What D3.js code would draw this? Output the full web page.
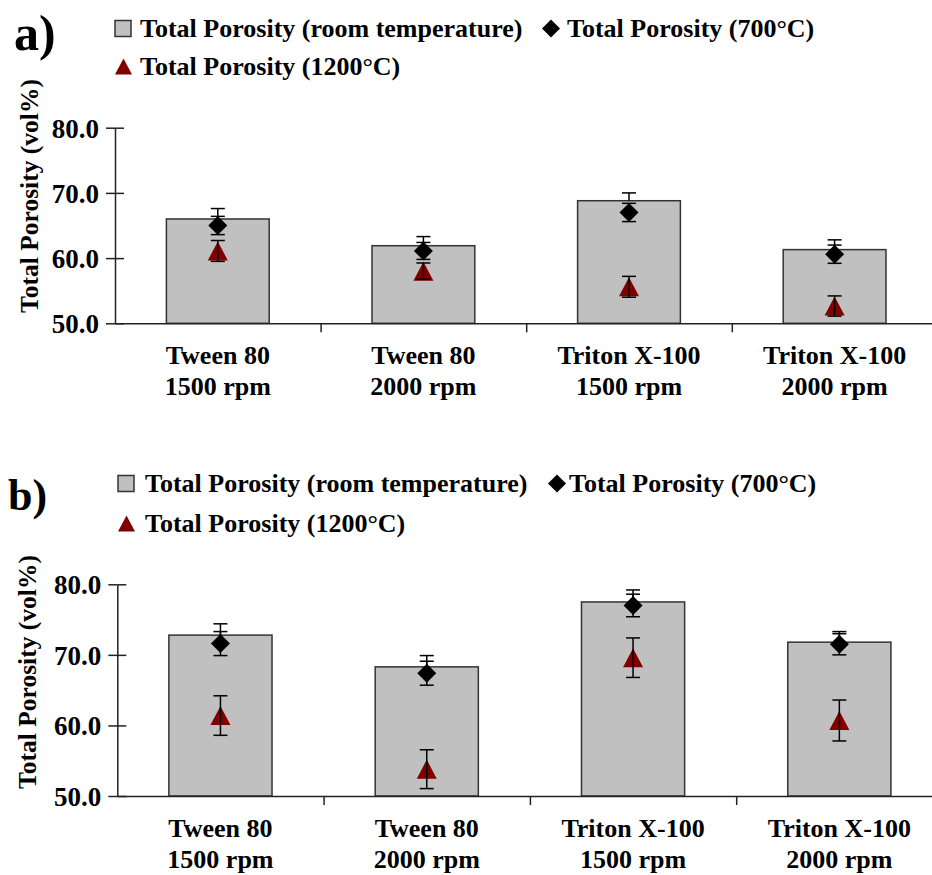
<!DOCTYPE html>
<html>
<head>
<meta charset="utf-8">
<script src="https://cdn.jsdelivr.net/npm/d3@7"></script>
<style>
  html, body { margin: 0; padding: 0; background: #fff; }
  svg { display: block; }
  text { font-family: "Liberation Serif", "Times New Roman", serif; font-weight: bold; fill: #000; }
</style>
</head>
<body>
<svg id="chart" width="932" height="875"></svg>
<script>
// ---------- data ----------
const categoriesLine1 = ["Tween 80", "Tween 80", "Triton X-100", "Triton X-100"];
const categoriesLine2 = ["1500 rpm", "2000 rpm", "1500 rpm", "2000 rpm"];
const seriesNames = ["Total Porosity (room temperature)", "Total Porosity (700°C)", "Total Porosity (1200°C)"];
const yTicks = [50, 60, 70, 80];

// panel a
const aRoom = [66.0, 61.9, 68.8, 61.3];
const aRoomErr = [1.6, 1.4, 1.2, 1.5];
const a700 = [65.0, 61.1, 67.0, 60.6];
const a700Err = [1.4, 1.3, 1.4, 1.4];
const a1200 = [61.1, 58.0, 55.6, 52.65];
const a1200Err = [1.6, 1.25, 1.6, 1.55];

// panel b
const bRoom = [72.8, 68.3, 77.5, 71.8];
const bRoomErr = [1.6, 1.6, 1.7, 1.5];
const b700 = [71.6, 67.4, 77.0, 71.5];
const b700Err = [1.7, 1.7, 1.6, 1.5];
const b1200 = [61.4, 53.8, 69.6, 60.7];
const b1200Err = [2.8, 2.75, 2.8, 2.9];

// ---------- drawing ----------
const svg = d3.select("#chart");
const BAR_FILL = "#c0c0c0", BAR_STROKE = "#333", TRI = "#800000";
const cats = categoriesLine1.map((d, i) => i);

function panel(cfg) {
  const g = svg.append("g");
  const x = d3.scaleBand().domain(cats).range([cfg.x0, cfg.x0 + 4 * cfg.step])
    .paddingInner(0.5).paddingOuter(0.25);
  const y = d3.scaleLinear().domain([50, 80]).range([cfg.yBottom, cfg.yTop]);
  const cx = i => x(i) + x.bandwidth() / 2;

  // bars
  g.selectAll("rect.bar").data(cfg.room).join("rect")
    .attr("x", (d, i) => x(i)).attr("width", x.bandwidth())
    .attr("y", d => y(d)).attr("height", d => y(50) - y(d))
    .attr("fill", BAR_FILL).attr("stroke", BAR_STROKE).attr("stroke-width", 1.5);

  // axes
  const yAxis = d3.axisLeft(y).tickValues(yTicks).tickFormat(d3.format(".1f"))
    .tickSizeInner(9).tickSizeOuter(0).tickPadding(7);
  const ya = g.append("g").attr("transform", `translate(${cfg.x0},0)`).call(yAxis);
  ya.selectAll(".tick").append("line").attr("x1", 0).attr("x2", 9).attr("stroke", "#222");
  ya.selectAll("line").attr("stroke", "#222").attr("stroke-width", 1.5);
  ya.select(".domain").attr("stroke", "#222").attr("stroke-width", 1.5);
  ya.selectAll("text").style("font-size", "27px").attr("dy", "0.35em");

  const xb = d3.scaleLinear().domain([0, 4]).range([cfg.x0, cfg.x0 + 4 * cfg.step]);
  const xAxis = d3.axisBottom(xb).tickValues([1, 2, 3, 4]).tickFormat("").tickSizeInner(9).tickSizeOuter(0);
  const xa = g.append("g").attr("transform", `translate(0,${cfg.yBottom})`).call(xAxis);
  xa.selectAll("line").attr("stroke", "#222").attr("stroke-width", 1.5);
  xa.select(".domain").attr("stroke", "#222").attr("stroke-width", 1.5);

  // category labels
  cats.forEach(i => {
    g.append("text").attr("x", cx(i)).attr("y", cfg.yBottom + 40.5).attr("text-anchor", "middle")
      .style("font-size", "26px").text(categoriesLine1[i]);
    g.append("text").attr("x", cx(i)).attr("y", cfg.yBottom + 72).attr("text-anchor", "middle")
      .style("font-size", "26px").text(categoriesLine2[i]);
  });

  // markers
  const dh = 9.5;
  g.selectAll("path.dia").data(cfg.t700).join("path")
    .attr("d", (d, i) => `M${cx(i)},${y(d) - dh}L${cx(i) + dh},${y(d)}L${cx(i)},${y(d) + dh}L${cx(i) - dh},${y(d)}Z`)
    .attr("fill", "#000");
  const tw = 10, th = 9.5;
  g.selectAll("path.tri").data(cfg.t1200).join("path")
    .attr("d", (d, i) => `M${cx(i)},${y(d) - th}L${cx(i) + tw},${y(d) + th}L${cx(i) - tw},${y(d) + th}Z`)
    .attr("fill", TRI);

  // error bars
  const cap = 7;
  function errs(vals, errsArr, plusOnly) {
    vals.forEach((v, i) => {
      const top = y(v + errsArr[i]);
      const bot = plusOnly ? y(v) : y(v - errsArr[i]);
      g.append("line").attr("x1", cx(i)).attr("x2", cx(i)).attr("y1", top).attr("y2", bot)
        .attr("stroke", "#000").attr("stroke-width", 1.5);
      g.append("line").attr("x1", cx(i) - cap).attr("x2", cx(i) + cap).attr("y1", top).attr("y2", top)
        .attr("stroke", "#000").attr("stroke-width", 1.5);
      if (!plusOnly) g.append("line").attr("x1", cx(i) - cap).attr("x2", cx(i) + cap).attr("y1", bot).attr("y2", bot)
        .attr("stroke", "#000").attr("stroke-width", 1.5);
    });
  }
  errs(cfg.room, cfg.roomErr, true);
  errs(cfg.t700, cfg.t700Err, false);
  errs(cfg.t1200, cfg.t1200Err, false);

  // y title
  g.append("text").attr("transform", `translate(${cfg.titleX},${cfg.titleY}) rotate(-90)`)
    .attr("text-anchor", "middle").style("font-size", "25.5px").text("Total Porosity (vol%)");

  // panel letter
  g.append("text").attr("x", cfg.letterX).attr("y", cfg.letterY).style("font-size", cfg.letterSize + "px").text(cfg.letter);

  // legend
  const L = cfg.legend;
  g.append("rect").attr("x", L.sqX).attr("y", L.row1 - 16.5).attr("width", 16).attr("height", 16)
    .attr("fill", BAR_FILL).attr("stroke", BAR_STROKE).attr("stroke-width", 1.5);
  g.append("text").attr("x", L.textX).attr("y", L.row1).style("font-size", "26px").text(seriesNames[0]);
  const dx = L.diaX, dy = L.row1 - 8.5, d2 = 9;
  g.append("path").attr("d", `M${dx},${dy - d2}L${dx + d2},${dy}L${dx},${dy + d2}L${dx - d2},${dy}Z`).attr("fill", "#000");
  g.append("text").attr("x", L.text2X).attr("y", L.row1).style("font-size", "26px").text(seriesNames[1]);
  const tx = L.sqX + 8.5, ty = L.row2 - 8.5;
  g.append("path").attr("d", `M${tx},${ty - 8}L${tx + 8.5},${ty + 8}L${tx - 8.5},${ty + 8}Z`).attr("fill", TRI);
  g.append("text").attr("x", L.textX).attr("y", L.row2).style("font-size", "26px").text(seriesNames[2]);
}

panel({
  x0: 115, step: 205.6, yTop: 127.7, yBottom: 323.3,
  room: aRoom, roomErr: aRoomErr, t700: a700, t700Err: a700Err, t1200: a1200, t1200Err: a1200Err,
  titleX: 38, titleY: 196, letter: "a)", letterX: 14, letterY: 50, letterSize: 50,
  legend: { sqX: 115, row1: 37, row2: 75, textX: 140, diaX: 551, text2X: 567 }
});
panel({
  x0: 117.3, step: 206.3, yTop: 584.3, yBottom: 796,
  room: bRoom, roomErr: bRoomErr, t700: b700, t700Err: b700Err, t1200: b1200, t1200Err: b1200Err,
  titleX: 36, titleY: 672, letter: "b)", letterX: 8, letterY: 510, letterSize: 44,
  legend: { sqX: 118, row1: 492, row2: 532, textX: 145, diaX: 557, text2X: 569 }
});
</script>
</body>
</html>
